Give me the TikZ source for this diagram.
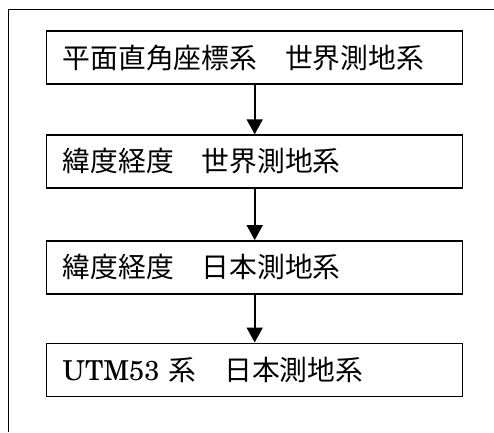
\documentclass[tikz,border=0pt]{standalone}
\usepackage{fontspec}
\setmainfont{TeX Gyre Schola}
\newfontfamily\cjk{Noto Sans CJK JP}
\newcommand\bigtxt{\fontsize{27.8}{30}\selectfont}
\usetikzlibrary{arrows.meta}
\begin{document}
\begin{tikzpicture}[x=1pt,y=1pt,
  stepbox/.style={draw, line width=1.4pt, minimum width=416pt, minimum height=53pt,
    text width=384pt, inner xsep=16pt, inner ysep=0pt, align=left},
  flow/.style={line width=1.8pt, -{Triangle[width=16pt,length=15pt]}}]
\useasboundingbox (0,0) rectangle (494,432);
\draw[line width=1pt] (8,0) -- (8,422) -- (494,422);
\node[stepbox] (a) at (254.7,374.5) {\bigtxt\cjk 平面直角座標系　世界測地系};
\node[stepbox] (b) at (254.7,270.5) {\bigtxt\cjk 緯度経度　世界測地系};
\node[stepbox] (c) at (254.7,164.7) {\bigtxt\cjk 緯度経度　日本測地系};
\node[stepbox] (d) at (254.7,62.3) {\bigtxt\makebox[106pt][l]{\resizebox{97pt}{!}{UTM53}}{\cjk 系　日本測地系}};
\draw[flow] (a) -- (b);
\draw[flow] (b) -- (c);
\draw[flow] (c) -- (d);
\end{tikzpicture}
\end{document}
